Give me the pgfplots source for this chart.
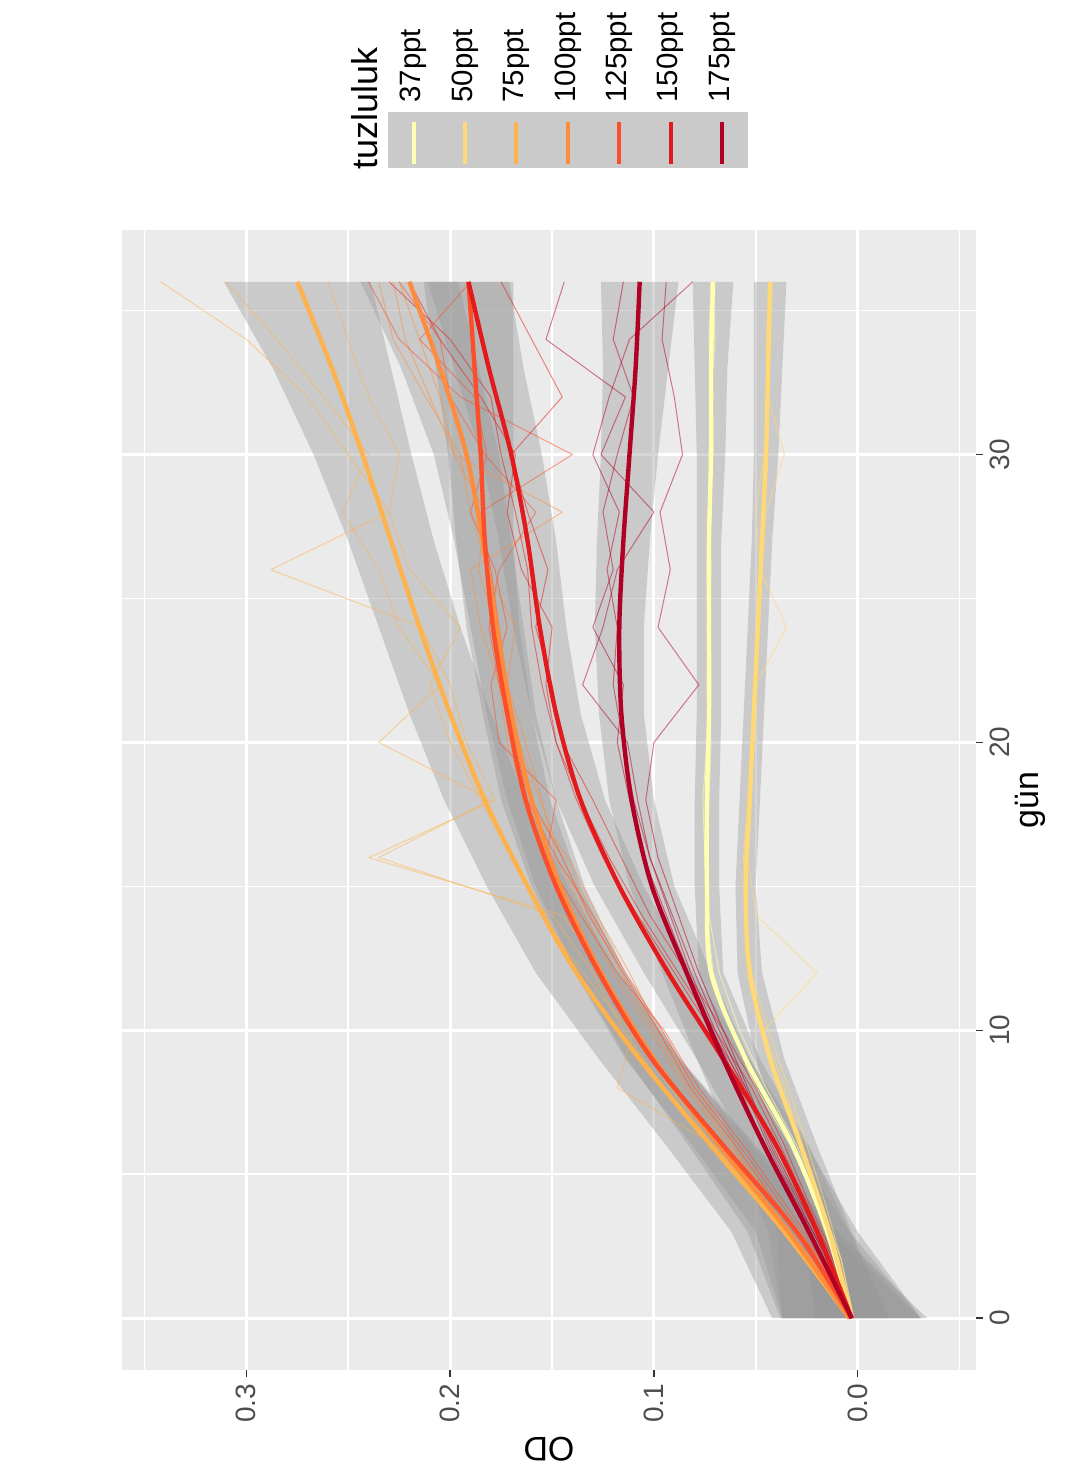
\documentclass[border=0pt]{standalone}
\usepackage{graphicx}
\usepackage{pgfplots}
\usepackage{pgfplotstable}
\pgfplotsset{compat=1.18}
\usepgfplotslibrary{fillbetween}
\usepackage{fontspec}
\setmainfont{Liberation Sans}

\definecolor{cA}{HTML}{FFFFB2}
\definecolor{cB}{HTML}{FED976}
\definecolor{cC}{HTML}{FEB24C}
\definecolor{cD}{HTML}{FD8D3C}
\definecolor{cE}{HTML}{FC4E2A}
\definecolor{cF}{HTML}{E31A1C}
\definecolor{cG}{HTML}{B10026}
\definecolor{panelbg}{HTML}{EBEBEB}
\definecolor{ribbon}{HTML}{999999}
\definecolor{keygrey}{HTML}{CACACA}
\definecolor{tickgrey}{HTML}{4D4D4D}

% smoothed means with ribbon bounds
\pgfplotstableread{
d m lo hi
0 0.003 -0.015 0.021
3 0.015 0.004 0.026
6 0.032 0.024 0.040
9 0.055 0.048 0.062
12 0.072 0.066 0.078
15 0.074 0.068 0.080
18 0.074 0.068 0.080
21 0.073 0.067 0.079
24 0.073 0.067 0.079
27 0.073 0.067 0.079
30 0.072 0.065 0.079
33 0.072 0.064 0.080
36 0.071 0.061 0.081
}\sA
\pgfplotstableread{
d m lo hi
0 0.003 -0.015 0.021
3 0.014 0.003 0.025
6 0.028 0.020 0.036
9 0.043 0.036 0.050
12 0.053 0.047 0.059
15 0.055 0.050 0.060
18 0.053 0.048 0.058
21 0.051 0.046 0.056
24 0.049 0.044 0.054
27 0.047 0.042 0.052
30 0.045 0.039 0.051
33 0.044 0.037 0.051
36 0.043 0.035 0.051
}\sB
\pgfplotstableread{
d m lo hi
0 0.004 -0.034 0.042
3 0.036 0.010 0.062
6 0.072 0.050 0.094
9 0.107 0.087 0.127
12 0.138 0.118 0.158
15 0.162 0.142 0.182
18 0.183 0.163 0.203
21 0.200 0.180 0.220
24 0.215 0.195 0.235
27 0.229 0.208 0.250
30 0.243 0.219 0.267
33 0.258 0.229 0.287
36 0.275 0.239 0.311
}\sC
\pgfplotstableread{
d m lo hi
0 0.004 -0.030 0.038
3 0.034 0.014 0.054
6 0.068 0.053 0.083
9 0.100 0.087 0.113
12 0.126 0.114 0.138
15 0.146 0.134 0.158
18 0.160 0.148 0.172
21 0.170 0.158 0.182
24 0.177 0.164 0.190
27 0.184 0.170 0.198
30 0.192 0.176 0.208
33 0.205 0.186 0.224
36 0.220 0.196 0.244
}\sD
\pgfplotstableread{
d m lo hi
0 0.003 -0.031 0.037
3 0.030 0.010 0.050
6 0.066 0.051 0.081
9 0.101 0.088 0.114
12 0.127 0.115 0.139
15 0.148 0.136 0.160
18 0.163 0.151 0.175
21 0.172 0.160 0.184
24 0.179 0.166 0.192
27 0.183 0.169 0.197
30 0.185 0.169 0.201
33 0.188 0.169 0.207
36 0.191 0.169 0.213
}\sE
\pgfplotstableread{
d m lo hi
0 0.003 -0.031 0.037
3 0.020 0.000 0.040
6 0.040 0.025 0.055
9 0.066 0.053 0.079
12 0.093 0.081 0.105
15 0.117 0.105 0.129
18 0.136 0.124 0.148
21 0.148 0.136 0.160
24 0.156 0.143 0.169
27 0.162 0.148 0.176
30 0.170 0.155 0.185
33 0.181 0.164 0.198
36 0.191 0.171 0.211
}\sF
\pgfplotstableread{
d m lo hi
0 0.003 -0.031 0.037
3 0.024 0.004 0.044
6 0.046 0.031 0.061
9 0.066 0.053 0.079
12 0.084 0.072 0.096
15 0.101 0.090 0.112
18 0.111 0.100 0.122
21 0.116 0.105 0.127
24 0.117 0.105 0.129
27 0.115 0.102 0.128
30 0.112 0.098 0.126
33 0.109 0.093 0.125
36 0.107 0.088 0.126
}\sG

% replicate measurements
\pgfplotstableread{
d a b
0 0.002 0.003
2 0.008 0.010
4 0.018 0.020
6 0.030 0.033
8 0.045 0.050
10 0.058 0.062
12 0.068 0.071
14 0.073 0.074
16 0.075 0.074
18 0.076 0.073
20 0.074 0.072
22 0.073 0.074
24 0.074 0.073
26 0.072 0.074
28 0.073 0.072
30 0.071 0.073
32 0.072 0.071
34 0.070 0.073
36 0.071 0.072
}\rA
\pgfplotstableread{
d a b
0 0.003 0.002
2 0.009 0.008
4 0.018 0.016
6 0.027 0.025
8 0.036 0.034
10 0.046 0.044
12 0.020 0.052
14 0.050 0.055
16 0.054 0.056
18 0.053 0.054
20 0.052 0.052
22 0.050 0.051
24 0.035 0.049
26 0.048 0.047
28 0.050 0.045
30 0.046 0.036
32 0.044 0.044
34 0.045 0.043
36 0.043 0.042
}\rB
\pgfplotstableread{
d a b c
0 0.003 0.004 0.003
2 0.022 0.024 0.023
4 0.046 0.048 0.047
6 0.070 0.072 0.071
8 0.118 0.095 0.092
10 0.110 0.115 0.112
12 0.125 0.130 0.135
14 0.145 0.150 0.155
16 0.240 0.235 0.170
18 0.178 0.180 0.185
20 0.192 0.235 0.200
22 0.200 0.205 0.210
24 0.214 0.225 0.195
26 0.288 0.235 0.220
28 0.230 0.253 0.230
30 0.250 0.240 0.225
32 0.270 0.262 0.240
34 0.300 0.285 0.250
36 0.342 0.310 0.260
}\rC
\pgfplotstableread{
d a b c
0 0.003 0.004 0.003
2 0.020 0.018 0.019
4 0.042 0.040 0.041
6 0.063 0.060 0.062
8 0.085 0.080 0.083
10 0.102 0.098 0.100
12 0.120 0.112 0.116
14 0.134 0.128 0.131
16 0.148 0.142 0.145
18 0.155 0.163 0.156
20 0.163 0.172 0.166
22 0.172 0.176 0.172
24 0.168 0.185 0.178
26 0.182 0.190 0.186
28 0.190 0.145 0.183
30 0.195 0.198 0.198
32 0.212 0.205 0.210
34 0.228 0.215 0.222
36 0.235 0.225 0.228
}\rD
\pgfplotstableread{
d a b c
0 0.003 0.002 0.003
2 0.018 0.016 0.017
4 0.040 0.036 0.038
6 0.060 0.056 0.058
8 0.082 0.078 0.080
10 0.098 0.095 0.096
12 0.115 0.118 0.114
14 0.132 0.136 0.130
16 0.145 0.153 0.148
18 0.160 0.148 0.162
20 0.168 0.176 0.168
22 0.172 0.180 0.176
24 0.176 0.172 0.181
26 0.180 0.178 0.176
28 0.185 0.190 0.158
30 0.140 0.182 0.183
32 0.195 0.188 0.200
34 0.225 0.215 0.205
36 0.240 0.190 0.225
}\rE
\pgfplotstableread{
d a b c
0 0.003 0.002 0.002
2 0.012 0.011 0.012
4 0.026 0.024 0.025
6 0.040 0.036 0.038
8 0.055 0.050 0.052
10 0.072 0.066 0.070
12 0.090 0.084 0.088
14 0.108 0.102 0.106
16 0.125 0.116 0.122
18 0.138 0.130 0.136
20 0.148 0.145 0.148
22 0.155 0.150 0.153
24 0.160 0.158 0.150
26 0.162 0.152 0.165
28 0.168 0.162 0.172
30 0.175 0.170 0.168
32 0.180 0.145 0.185
34 0.200 0.160 0.205
36 0.230 0.175 0.220
}\rF
\pgfplotstableread{
d a b c e
0 0.003 0.002 0.003 0.003
2 0.014 0.013 0.016 0.015
4 0.030 0.028 0.032 0.029
6 0.044 0.042 0.046 0.043
8 0.056 0.054 0.058 0.055
10 0.070 0.066 0.071 0.068
12 0.082 0.078 0.083 0.080
14 0.092 0.088 0.094 0.091
16 0.102 0.098 0.105 0.102
18 0.108 0.104 0.112 0.110
20 0.113 0.100 0.118 0.115
22 0.135 0.078 0.115 0.120
24 0.125 0.098 0.130 0.118
26 0.118 0.092 0.120 0.123
28 0.100 0.097 0.125 0.117
30 0.126 0.086 0.118 0.130
32 0.114 0.090 0.110 0.122
34 0.153 0.096 0.120 0.112
36 0.144 0.094 0.115 0.081
}\rG

\begin{document}
\rotatebox{90}{%
\begin{tikzpicture}
\begin{axis}[
  at={(0pt,0pt)}, anchor=south west,
  scale only axis, width=570pt, height=427pt,
  xmin=-1.8, xmax=37.8, ymin=-0.058, ymax=0.361,
  axis background/.style={fill=panelbg},
  axis line style={draw=none},
  xtick={0,10,20,30}, minor xtick={5,15,25,35},
  ytick={0,0.1,0.2,0.3}, minor ytick={-0.05,0.05,0.15,0.25,0.35},
  grid=both,
  major grid style={draw=white, line width=1.5pt},
  minor grid style={draw=white, line width=0.75pt},
  tick align=outside, xtick pos=bottom, ytick pos=left,
  major tick length=3.5pt, minor tick length=0pt,
  tick style={draw=black!80, line width=0.7pt},
  tick label style={font=\fontsize{14}{16}\selectfont, text=tickgrey},
  /pgf/number format/assume math mode=true,
  yticklabel style={/pgf/number format/fixed, /pgf/number format/fixed zerofill, /pgf/number format/precision=1},
  xlabel={gün}, ylabel={OD},
  label style={font=\fontsize{17}{20}\selectfont},
  xlabel style={yshift=4pt},
]
% ribbons
\addplot[name path=uA, draw=none, forget plot] table[x=d,y=hi]{\sA};
\addplot[name path=lA, draw=none, forget plot] table[x=d,y=lo]{\sA};
\addplot[fill=ribbon, fill opacity=0.4, draw=none, forget plot] fill between[of=uA and lA];
\addplot[name path=uB, draw=none, forget plot] table[x=d,y=hi]{\sB};
\addplot[name path=lB, draw=none, forget plot] table[x=d,y=lo]{\sB};
\addplot[fill=ribbon, fill opacity=0.4, draw=none, forget plot] fill between[of=uB and lB];
\addplot[name path=uC, draw=none, forget plot] table[x=d,y=hi]{\sC};
\addplot[name path=lC, draw=none, forget plot] table[x=d,y=lo]{\sC};
\addplot[fill=ribbon, fill opacity=0.4, draw=none, forget plot] fill between[of=uC and lC];
\addplot[name path=uD, draw=none, forget plot] table[x=d,y=hi]{\sD};
\addplot[name path=lD, draw=none, forget plot] table[x=d,y=lo]{\sD};
\addplot[fill=ribbon, fill opacity=0.4, draw=none, forget plot] fill between[of=uD and lD];
\addplot[name path=uE, draw=none, forget plot] table[x=d,y=hi]{\sE};
\addplot[name path=lE, draw=none, forget plot] table[x=d,y=lo]{\sE};
\addplot[fill=ribbon, fill opacity=0.4, draw=none, forget plot] fill between[of=uE and lE];
\addplot[name path=uF, draw=none, forget plot] table[x=d,y=hi]{\sF};
\addplot[name path=lF, draw=none, forget plot] table[x=d,y=lo]{\sF};
\addplot[fill=ribbon, fill opacity=0.4, draw=none, forget plot] fill between[of=uF and lF];
\addplot[name path=uG, draw=none, forget plot] table[x=d,y=hi]{\sG};
\addplot[name path=lG, draw=none, forget plot] table[x=d,y=lo]{\sG};
\addplot[fill=ribbon, fill opacity=0.4, draw=none, forget plot] fill between[of=uG and lG];
% replicates
\addplot[cA, line width=0.5pt, opacity=0.6, forget plot] table[x=d,y=a]{\rA};
\addplot[cA, line width=0.5pt, opacity=0.6, forget plot] table[x=d,y=b]{\rA};
\addplot[cB, line width=0.5pt, opacity=0.6, forget plot] table[x=d,y=a]{\rB};
\addplot[cB, line width=0.5pt, opacity=0.6, forget plot] table[x=d,y=b]{\rB};
\addplot[cC, line width=0.5pt, opacity=0.5, forget plot] table[x=d,y=a]{\rC};
\addplot[cC, line width=0.5pt, opacity=0.5, forget plot] table[x=d,y=b]{\rC};
\addplot[cC, line width=0.5pt, opacity=0.5, forget plot] table[x=d,y=c]{\rC};
\addplot[cD, line width=0.5pt, opacity=0.5, forget plot] table[x=d,y=a]{\rD};
\addplot[cD, line width=0.5pt, opacity=0.5, forget plot] table[x=d,y=b]{\rD};
\addplot[cD, line width=0.5pt, opacity=0.5, forget plot] table[x=d,y=c]{\rD};
\addplot[cE, line width=0.5pt, opacity=0.5, forget plot] table[x=d,y=a]{\rE};
\addplot[cE, line width=0.5pt, opacity=0.5, forget plot] table[x=d,y=b]{\rE};
\addplot[cE, line width=0.5pt, opacity=0.5, forget plot] table[x=d,y=c]{\rE};
\addplot[cF, line width=0.5pt, opacity=0.5, forget plot] table[x=d,y=a]{\rF};
\addplot[cF, line width=0.5pt, opacity=0.5, forget plot] table[x=d,y=b]{\rF};
\addplot[cF, line width=0.5pt, opacity=0.5, forget plot] table[x=d,y=c]{\rF};
\addplot[cG, line width=0.5pt, opacity=0.5, forget plot] table[x=d,y=a]{\rG};
\addplot[cG, line width=0.5pt, opacity=0.5, forget plot] table[x=d,y=b]{\rG};
\addplot[cG, line width=0.5pt, opacity=0.5, forget plot] table[x=d,y=c]{\rG};
\addplot[cG, line width=0.5pt, opacity=0.5, forget plot] table[x=d,y=e]{\rG};
% smooth means
\addplot[cA, line width=2.2pt, smooth, forget plot] table[x=d,y=m]{\sA};
\addplot[cB, line width=2.2pt, smooth, forget plot] table[x=d,y=m]{\sB};
\addplot[cC, line width=2.2pt, smooth, forget plot] table[x=d,y=m]{\sC};
\addplot[cD, line width=2.2pt, smooth, forget plot] table[x=d,y=m]{\sD};
\addplot[cE, line width=2.2pt, smooth, forget plot] table[x=d,y=m]{\sE};
\addplot[cF, line width=2.2pt, smooth, forget plot] table[x=d,y=m]{\sF};
\addplot[cG, line width=2.2pt, smooth, forget plot] table[x=d,y=m]{\sG};
\end{axis}
% legend
\node[anchor=base west, inner sep=0pt, font=\fontsize{18}{20}\selectfont] at (600pt,299pt) {tuzluluk};
\foreach \i/\c/\t in {0/cA/37ppt,1/cB/50ppt,2/cC/75ppt,3/cD/100ppt,4/cE/125ppt,5/cF/150ppt,6/cG/175ppt}{
  \fill[keygrey] (601pt,{294pt-\i*25.7pt}) rectangle (629pt,{294pt-(\i+1)*25.7pt});
  \draw[\c, line width=2pt] (603pt,{294pt-(\i+0.5)*25.7pt}) -- (624pt,{294pt-(\i+0.5)*25.7pt});
  \node[anchor=west, inner sep=0pt, font=\fontsize{14.7}{16}\selectfont] at (633.5pt,{294pt-(\i+0.5)*25.7pt}) {\t};
}
\pgfresetboundingbox
\path[use as bounding box] (-56.5pt,-50pt) rectangle (685pt,488pt);
\end{tikzpicture}%
}
\end{document}
